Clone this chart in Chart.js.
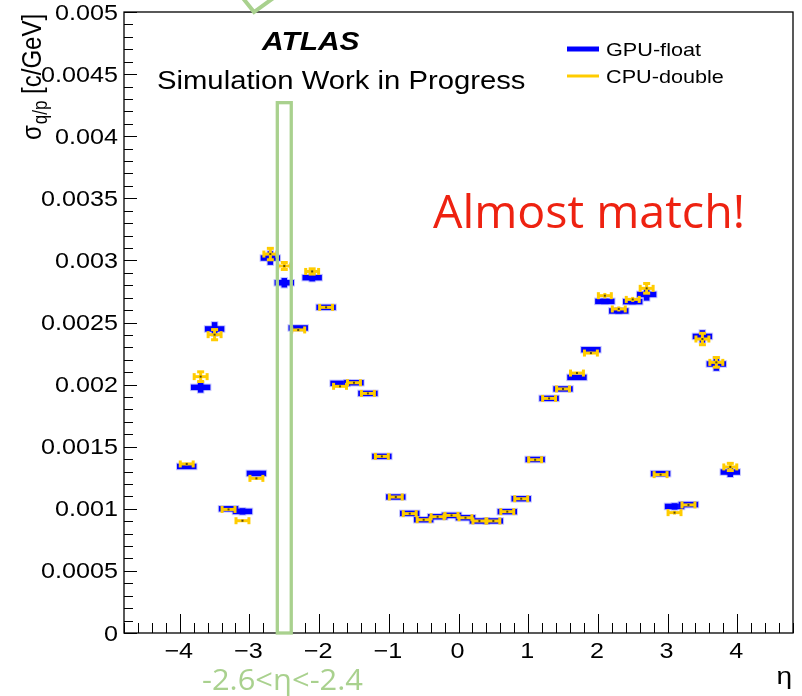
<!DOCTYPE html>
<html>
<head>
<meta charset="utf-8">
<script src="https://cdn.jsdelivr.net/npm/chart.js@4"></script>
<style>
  body { margin: 0; background: #fff; }
  #marco { width: 802px; height: 696px; position: relative; }
</style>
</head>
<body>
<div id="marco"><canvas id="grafico"></canvas></div>
<script>
// Centros de los bins en eta
const etaBins = [-3.9, -3.7, -3.5, -3.3, -3.1, -2.9, -2.7, -2.5, -2.3, -2.1,
                 -1.9, -1.7, -1.5, -1.3, -1.1, -0.9, -0.7, -0.5, -0.3, -0.1,
                  0.1,  0.3,  0.5,  0.7,  0.9,  1.1,  1.3,  1.5,  1.7,  1.9,
                  2.1,  2.3,  2.5,  2.7,  2.9,  3.1,  3.3,  3.5,  3.7,  3.9];
const etaHalfWidth = [0.1];

// sigma q/p [c/GeV]
const gpuFloat = [0.001341, 0.001978, 0.002448, 0.001000, 0.000979, 0.001285, 0.003019, 0.002820, 0.002456, 0.002861,
                  0.002622, 0.002010, 0.002015, 0.001929, 0.001422, 0.001095, 0.000963, 0.000912, 0.000936, 0.000947,
                  0.000928, 0.000902, 0.000902, 0.000977, 0.001081, 0.001397, 0.001889, 0.001965, 0.002058, 0.002281,
                  0.002670, 0.002593, 0.002668, 0.002726, 0.001283, 0.001019, 0.001034, 0.002388, 0.002166, 0.001296];
const gpuFloatErr = [0.000010, 0.000043, 0.000055, 0.000010, 0.000025, 0.000015, 0.000055, 0.000038, 0.000010, 0.000030,
                     0.000008, 0.000008, 0.000008, 0.000008, 0.000008, 0.000008, 0.000008, 0.000008, 0.000008, 0.000008,
                     0.000008, 0.000008, 0.000008, 0.000008, 0.000008, 0.000008, 0.000008, 0.000008, 0.000010, 0.000010,
                     0.000020, 0.000020, 0.000020, 0.000050, 0.000012, 0.000025, 0.000010, 0.000050, 0.000055, 0.000040];
const cpuDouble = [0.001361, 0.002064, 0.002402, 0.000995, 0.000904, 0.001245, 0.003051, 0.002955, 0.002440, 0.002911,
                   0.002622, 0.001986, 0.002015, 0.001929, 0.001422, 0.001095, 0.000961, 0.000912, 0.000936, 0.000947,
                   0.000928, 0.000902, 0.000902, 0.000977, 0.001081, 0.001395, 0.001889, 0.001965, 0.002093, 0.002254,
                   0.002716, 0.002609, 0.002686, 0.002775, 0.001275, 0.000969, 0.001031, 0.002367, 0.002179, 0.001337];
const cpuDoubleErr = [0.000010, 0.000043, 0.000045, 0.000010, 0.000010, 0.000010, 0.000050, 0.000032, 0.000010, 0.000025,
                      0.000008, 0.000008, 0.000008, 0.000008, 0.000008, 0.000008, 0.000008, 0.000008, 0.000008, 0.000008,
                      0.000008, 0.000008, 0.000008, 0.000008, 0.000008, 0.000008, 0.000008, 0.000008, 0.000010, 0.000010,
                      0.000022, 0.000020, 0.000020, 0.000043, 0.000010, 0.000015, 0.000010, 0.000050, 0.000043, 0.000033];

// Ejes
const xTicks = [-4, -3, -2, -1, 0, 1, 2, 3, 4];
const xTickLabels = ['\u22124', '\u22123', '\u22122', '\u22121', '0', '1', '2', '3', '4'];
const yTicks = [0, 0.0005, 0.001, 0.0015, 0.002, 0.0025, 0.003, 0.0035, 0.004, 0.0045, 0.005];
const yTickLabels = ['0', '0.0005', '0.001', '0.0015', '0.002', '0.0025', '0.003', '0.0035', '0.004', '0.0045', '0.005'];
const regionMarcada = [-2.6, -2.4, 0, 0.00427];

const HELV = '"Liberation Sans", Arial, sans-serif';
const ESTIRA = 1.17; // el original esta estirado en horizontal

// Escribe texto con estiramiento horizontal
const texto = (ctx, txt, x, y, font, color, align, sx) => {
    ctx.save();
    ctx.font = font;
    ctx.fillStyle = color;
    ctx.textAlign = 'left';
    ctx.textBaseline = 'alphabetic';
    let w = ctx.measureText(txt).width * sx;
    let x0 = align === 'right' ? x - w : align === 'center' ? x - w / 2 : x;
    ctx.translate(x0, y);
    ctx.scale(sx, 1);
    ctx.fillText(txt, 0, 0);
    ctx.restore();
};
// Escribe texto ajustado a un ancho dado
const textoAncho = (ctx, txt, x, y, font, color, ancho) => {
    ctx.save();
    ctx.font = font;
    let sx = ancho / ctx.measureText(txt).width;
    ctx.restore();
    texto(ctx, txt, x, y, font, color, 'left', sx);
};

const linea = (ctx, x1, y1, x2, y2) => {
    ctx.beginPath();
    ctx.moveTo(x1, y1);
    ctx.lineTo(x2, y2);
    ctx.stroke();
};

// Barras de error estilo ROOT
const barrasError = {
    id: 'barrasError',
    afterDatasetsDraw(chart) {
        const ctx = chart.ctx;
        const xs = chart.scales.x, ys = chart.scales.y;
        const hw = etaHalfWidth[0];
        ctx.save();
        ctx.beginPath();
        ctx.rect(chart.chartArea.left, chart.chartArea.top, chart.chartArea.width, chart.chartArea.height);
        ctx.clip();
        // GPU-float: azul grueso
        chart.getDatasetMeta(0).data.forEach((p, i) => {
            const xl = xs.getPixelForValue(etaBins[i] - hw), xr = xs.getPixelForValue(etaBins[i] + hw);
            const yt = ys.getPixelForValue(gpuFloat[i] + gpuFloatErr[i]), yb = ys.getPixelForValue(gpuFloat[i] - gpuFloatErr[i]);
            ctx.strokeStyle = 'rgba(60,60,255,0.3)';
            ctx.lineWidth = 7.5;
            ctx.lineCap = 'square';
            linea(ctx, xl, p.y, xr, p.y);
            ctx.lineCap = 'butt';
            linea(ctx, p.x, yt - 1, p.x, yb + 1);
            ctx.strokeStyle = '#0000ff';
            ctx.lineWidth = 5.5;
            ctx.lineCap = 'square';
            linea(ctx, xl, p.y, xr, p.y);
            ctx.lineCap = 'butt';
            linea(ctx, p.x, yt, p.x, yb);
        });
        // CPU-double: amarillo con topes
        chart.getDatasetMeta(1).data.forEach((p, i) => {
            const xl = xs.getPixelForValue(etaBins[i] - hw), xr = xs.getPixelForValue(etaBins[i] + hw);
            const yt = ys.getPixelForValue(cpuDouble[i] + cpuDoubleErr[i]), yb = ys.getPixelForValue(cpuDouble[i] - cpuDoubleErr[i]);
            ctx.lineCap = 'butt';
            ctx.strokeStyle = '#ffcc00';
            ctx.lineWidth = 3;
            linea(ctx, xl, p.y, xr, p.y);
            linea(ctx, p.x, yt, p.x, yb);
            linea(ctx, xl + 0.5, p.y - 3.5, xl + 0.5, p.y + 3.5);
            linea(ctx, xr - 0.5, p.y - 3.5, xr - 0.5, p.y + 3.5);
            if (yb - yt > 6) {
                linea(ctx, p.x - 3.5, yt + 0.5, p.x + 3.5, yt + 0.5);
                linea(ctx, p.x - 3.5, yb - 0.5, p.x + 3.5, yb - 0.5);
            }
            ctx.fillStyle = '#5a4a10';
            ctx.fillRect(p.x - 1, p.y - 1, 2, 2);
        });
        ctx.restore();
    }
};

// Marco, ejes, leyenda y anotaciones
const decorado = {
    id: 'decorado',
    afterDraw(chart) {
        const ctx = chart.ctx;
        const a = chart.chartArea;
        const xs = chart.scales.x, ys = chart.scales.y;
        ctx.save();

        // Marcas del eje x
        ctx.strokeStyle = '#000';
        ctx.lineWidth = 1;
        for (let k = -24; k <= 24; k++) {
            const px = Math.round(xs.getPixelForValue(k * 0.2)) + 0.5;
            const largo = (k % 5 === 0) ? 19 : 10;
            linea(ctx, px, a.bottom, px, a.bottom - largo);
        }
        // Marcas del eje y
        for (let k = 0; k <= 50; k++) {
            const py = Math.round(ys.getPixelForValue(k * 0.0001)) + 0.5;
            const largo = (k % 5 === 0) ? 13 : 9;
            linea(ctx, a.left, py, a.left + largo, py);
        }
        // Marco
        ctx.lineWidth = 1.3;
        ctx.strokeRect(a.left, a.top, a.right - a.left, a.bottom - a.top);

        // Etiquetas
        xTicks.forEach((v, i) => {
            texto(ctx, xTickLabels[i], xs.getPixelForValue(v) - 1, 658, '21.5px ' + HELV, '#000', 'center', ESTIRA);
        });
        yTicks.forEach((v, i) => {
            texto(ctx, yTickLabels[i], a.left - 6, ys.getPixelForValue(v) + 7.5, '21.5px ' + HELV, '#000', 'right', ESTIRA);
        });
        texto(ctx, '\u03b7', 792, 684, '24px ' + HELV, '#000', 'right', ESTIRA);

        // Titulo eje y: sigma_{q/p} [c/GeV]
        ctx.save();
        ctx.translate(41, 140);
        ctx.rotate(-Math.PI / 2);
        ctx.scale(1, ESTIRA);
        ctx.fillStyle = '#000';
        ctx.font = '24px ' + HELV;
        ctx.fillText('\u03c3', 0, 0);
        let adv = ctx.measureText('\u03c3').width;
        ctx.font = '17px ' + HELV;
        ctx.fillText('q/p', adv + 1, 5);
        adv += 1 + ctx.measureText('q/p').width;
        ctx.font = '24px ' + HELV;
        ctx.fillText(' [c/GeV]', adv, 0);
        ctx.restore();

        // ATLAS
        texto(ctx, 'ATLAS', 262, 50, 'italic bold 25.6px ' + HELV, '#000', 'left', ESTIRA);
        texto(ctx, 'Simulation Work in Progress', 157, 89, '25px ' + HELV, '#000', 'left', ESTIRA);

        // Leyenda
        chart.data.datasets.forEach((d, i) => {
            const yl = i === 0 ? 49 : 76;
            ctx.strokeStyle = d.borderColor;
            ctx.lineWidth = i === 0 ? 5 : 3;
            ctx.lineCap = 'butt';
            linea(ctx, 567, yl, 599, yl);
            texto(ctx, d.label, 606, yl + 7, '18.5px ' + HELV, '#000', 'left', ESTIRA);
        });

        // Anotacion
        textoAncho(ctx, 'Almost match!', 433, 228, '46px "Open Sans", Lato, sans-serif', '#ee2211', 312);

        // Region marcada en verde
        const rx1 = xs.getPixelForValue(regionMarcada[0]), rx2 = xs.getPixelForValue(regionMarcada[1]);
        const ry1 = ys.getPixelForValue(regionMarcada[2]), ry2 = ys.getPixelForValue(regionMarcada[3]);
        ctx.strokeStyle = '#a9d18e';
        ctx.lineWidth = 3.3;
        ctx.strokeRect(rx1, ry2, rx2 - rx1, ry1 - ry2);
        textoAncho(ctx, '-2.6<\u03b7<-2.4', 202, 690, '30px "Open Sans", Lato, sans-serif', '#a9d18e', 161);
        // punta de flecha cortada arriba
        ctx.lineWidth = 4;
        ctx.beginPath();
        ctx.moveTo(242, -3);
        ctx.lineTo(254, 12);
        ctx.lineTo(279, -6);
        ctx.stroke();

        ctx.restore();
    }
};

new Chart(document.getElementById('grafico'), {
    type: 'scatter',
    data: {
        datasets: [
            {
                label: 'GPU-float',
                borderColor: '#0000ff',
                backgroundColor: '#0000ff',
                data: etaBins.map((x, i) => ({ x: x, y: gpuFloat[i] }))
            },
            {
                label: 'CPU-double',
                borderColor: '#ffcc00',
                backgroundColor: '#ffcc00',
                data: etaBins.map((x, i) => ({ x: x, y: cpuDouble[i] }))
            }
        ]
    },
    options: {
        responsive: true,
        maintainAspectRatio: false,
        animation: false,
        layout: { padding: { left: 124, right: 9, top: 12, bottom: 63 } },
        elements: { point: { radius: 0, hoverRadius: 0 } },
        scales: {
            x: { type: 'linear', min: -4.8, max: 4.8, display: false },
            y: { type: 'linear', min: 0, max: 0.005, display: false }
        },
        plugins: {
            legend: { display: false },
            tooltip: { enabled: false }
        }
    },
    plugins: [barrasError, decorado]
});
</script>
</body>
</html>
